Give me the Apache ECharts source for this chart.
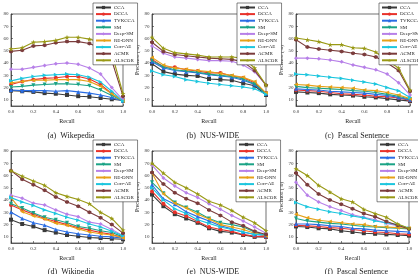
<!DOCTYPE html>
<html>
<head>
<meta charset="utf-8">
<script src="https://cdn.jsdelivr.net/npm/echarts@6/dist/echarts.min.js"></script>
<style>
  html, body { margin: 0; padding: 0; background: #fff; }
  #chart { width: 418px; height: 274px; }
</style>
</head>
<body>
<div id="chart"></div>
<script>
// x values (recall)
const recall = [0, 0.1, 0.2, 0.3, 0.4, 0.5, 0.6, 0.7, 0.8, 0.9, 1.0];
const methods = ['CCA', 'DCCA', 'TVKCCA', 'SM', 'Deep-SM', 'RE-DNN', 'Corr-AE', 'ACMR', 'ALSCOR'];
const yTicks = [10, 20, 30, 40, 50, 60, 70, 80];
const captions = ['(a)  Wikepedia', '(b)  NUS-WIDE', '(c)  Pascal Sentence',
                  '(d)  Wikipedia', '(e)  NUS-WIDE', '(f)  Pascal Sentence'];

// precision values, one row per method (same order as methods)
const wikiTop = [
  [17.5, 17, 16.5, 15.5, 15, 14, 13, 12.5, 11.5, 10.5, 9.5],
  [22.5, 25, 26.5, 27.5, 28, 29, 29, 27, 22.5, 15, 9],
  [18, 17.5, 17.5, 17.5, 17, 17.5, 16.5, 15.5, 14, 12, 9],
  [20.5, 21, 22, 22.5, 23, 23, 22.5, 21.5, 18, 13.5, 9],
  [35, 35, 36.5, 38, 39.5, 40, 39, 36, 31, 20, 10],
  [24, 25, 26, 26, 26.5, 26.5, 26.5, 25, 21, 15, 9],
  [25.5, 27.5, 29, 30, 30.5, 31, 30.5, 28.5, 24.5, 17, 9],
  [49.5, 50.5, 54, 54.5, 56.5, 57.5, 57.5, 56, 52, 42, 13],
  [51.5, 52.5, 57, 57.5, 58.5, 61, 61, 59.5, 57, 48, 15]
];
const nusTop = [
  [39.5, 33, 31, 30, 29.5, 27, 26.5, 26, 23.5, 21.5, 14],
  [43, 37, 36.5, 34.5, 33.5, 32, 32, 29.5, 28, 24, 15.5],
  [41, 36, 34, 33, 32, 30.5, 29.5, 28.5, 26, 22.5, 15],
  [42, 37, 34.5, 33.5, 32.5, 31, 30, 29, 27, 23, 15],
  [54, 48, 45, 44, 43, 42, 42, 41.5, 38.5, 33, 22],
  [44.5, 38.5, 36, 35, 34, 33, 31.5, 30, 28.5, 25, 15.5],
  [33.5, 30.5, 29, 26.5, 25, 23.5, 22.5, 21.5, 20.5, 19, 14.5],
  [57, 49.5, 47, 46, 45, 44, 43.5, 43, 41, 34, 22],
  [61, 52, 48.5, 47.5, 46.5, 45, 45, 45, 44, 36, 22]
];
const pascalTop = [
  [16.5, 16, 15.5, 14.5, 14, 13.5, 12.5, 12, 11, 10, 9],
  [18, 17.5, 17, 16, 15, 14.5, 14, 13, 12.5, 11.5, 9.5],
  [19, 18.5, 18, 17, 16.5, 16, 15.5, 14.5, 13.5, 12, 10],
  [21, 20, 19.5, 19, 18.5, 17.5, 17, 16, 14.5, 13, 10.5],
  [44, 44, 43.5, 42.5, 41, 38.5, 36.5, 34.5, 31, 24, 14],
  [22.5, 22, 21, 20.5, 20, 19.5, 18, 17.5, 16, 14, 11],
  [31, 30.5, 29.5, 28.5, 27.5, 26, 24.5, 23, 20, 17.5, 12],
  [59, 53, 51.5, 50.5, 49.5, 48, 47, 45, 40, 34, 17],
  [60.5, 59, 57.5, 55, 55, 52.5, 52, 49, 42, 36, 18]
];
const wikiBottom = [
  [24, 20.5, 18.5, 15.5, 13.5, 11.5, 10.5, 9.5, 9, 8.5, 8],
  [36, 32, 28.5, 25, 22.5, 20, 17.5, 15.5, 13.5, 12, 9.5],
  [30, 25, 21.5, 19.5, 16, 14, 12.5, 11.5, 10.5, 10, 9],
  [37, 33.5, 29.5, 26, 24, 21.5, 18.5, 17, 15, 13.5, 10],
  [44, 41.5, 37.5, 36, 32, 28.5, 26.5, 22, 20.5, 16, 11],
  [42, 30.5, 27, 24.5, 21, 19.5, 16.5, 14, 12.5, 11.5, 9],
  [42, 38.5, 35.5, 32, 29, 26, 23.5, 20.5, 18, 14.5, 11],
  [64, 57, 52.5, 48, 42.5, 38.5, 35, 30, 25.5, 20, 13],
  [64, 59.5, 55.5, 52, 46, 43, 40.5, 37, 30, 25, 15.5]
];
const nusBottom = [
  [44.5, 35, 28.5, 25, 21.5, 17, 14.5, 13.5, 11.5, 10, 10],
  [47, 37, 30, 27, 22.5, 18, 16, 14.5, 12, 10.5, 10],
  [52.5, 41, 36.5, 30.5, 26.5, 23, 19, 16.5, 14, 12, 11],
  [54.5, 45.5, 38, 34, 30, 25, 21.5, 20, 18, 14, 11],
  [68.5, 58, 51.5, 46, 42, 37, 32.5, 27.5, 23, 18, 13],
  [62, 45, 37.5, 33.5, 28.5, 24.5, 20, 18, 16, 13, 11],
  [50, 40, 33, 29, 24, 21, 18, 16, 14, 12, 12],
  [62.5, 53, 46, 41, 37.5, 32, 27.5, 22, 19, 14.5, 12],
  [70, 62, 54.5, 50, 45, 39, 36, 31.5, 26, 21.5, 15]
];
const pascalBottom = [
  [18.5, 18, 17, 16.5, 15, 14, 13, 12.5, 12, 11.5, 11],
  [19.5, 19, 18.5, 17.5, 17, 16, 15, 14, 13.5, 12.5, 12],
  [20.5, 20.5, 20, 19, 18.5, 17, 16.5, 15.5, 15, 14.5, 14],
  [25, 23, 22, 21, 20.5, 19.5, 18.5, 18, 17.5, 17, 16.5],
  [54.5, 44, 38.5, 34.5, 31.5, 28, 26, 24, 21, 19, 17],
  [28.5, 25.5, 23.5, 22.5, 21.5, 20.5, 20, 18.5, 18, 17.5, 17],
  [38, 34.5, 32.5, 30.5, 29, 27, 25.5, 23, 21.5, 20, 17],
  [62, 52.5, 45, 40, 36.5, 33, 29, 26.5, 22.5, 19.5, 16.5],
  [65.5, 60, 52, 46.5, 41, 38.5, 32.5, 29, 26, 20.5, 17]
];
const panels = [wikiTop, nusTop, pascalTop, wikiBottom, nusBottom, pascalBottom];

const colors = ['#3a3a3a', '#e8322b', '#2a6de4', '#1ba386', '#b780e8', '#e6a118', '#1cc6de', '#7b3c3c', '#999915'];
const star = 'path://M0,-10L2.35,-3.24L9.51,-3.09L3.8,1.24L5.88,8.09L0,4L-5.88,8.09L-3.8,1.24L-9.51,-3.09L-2.35,-3.24Z';
const hexagon = 'path://M0,-10L8.66,-5L8.66,5L0,10L-8.66,5L-8.66,-5Z';
const symbols = ['rect', 'circle', 'triangle', 'triangle', 'diamond', 'triangle', 'triangle', hexagon, star];
const rotates = [0, 0, 0, 180, 0, 90, -90, 0, 0];

const font = 'Liberation Serif';
const axisColor = '#333';

const boxes = [
  { left: 11, top: 14, width: 112 },
  { left: 152, top: 14, width: 114 },
  { left: 296, top: 14, width: 114 },
  { left: 11, top: 151, width: 112 },
  { left: 152, top: 151, width: 114 },
  { left: 296, top: 151, width: 113 }
];
const legendPos = [[93, 3], [237, 3], [379, 3], [93, 140], [236, 140], [377, 140]];

const chart = echarts.init(document.getElementById('chart'), null, { renderer: 'canvas' });

const grid = boxes.map(b => ({
  left: b.left, top: b.top, width: b.width, height: 92,
  show: true, borderColor: axisColor, borderWidth: 0.7, backgroundColor: 'transparent'
}));

const xAxis = boxes.map((b, i) => ({
  type: 'value', gridIndex: i, min: 0, max: 1, interval: 0.2,
  name: 'Recall', nameLocation: 'middle', nameGap: 12,
  nameTextStyle: { fontFamily: font, fontSize: 6, color: '#222' },
  axisLine: { lineStyle: { color: axisColor, width: 0.7 } },
  axisTick: { inside: true, length: 2, lineStyle: { color: axisColor, width: 0.6 } },
  minorTick: { show: true, splitNumber: 2, length: 1.2, lineStyle: { color: axisColor, width: 0.5 } },
  axisLabel: { fontFamily: font, fontSize: 5, color: '#333', margin: 3, formatter: v => v.toFixed(1) },
  splitLine: { show: false }
}));

const yAxis = boxes.map((b, i) => ({
  type: 'value', gridIndex: i, min: 5, max: 80,
  name: (i % 3 === 0) ? '' : 'Precision (%)', nameLocation: 'middle', nameGap: i % 3 === 2 ? 11 : 8.5,
  nameTextStyle: { fontFamily: font, fontSize: 5.5, color: '#222' },
  axisLine: { show: true, lineStyle: { color: axisColor, width: 0.7 } },
  axisTick: { inside: true, length: 2, customValues: yTicks, lineStyle: { color: axisColor, width: 0.6 } },
  axisLabel: { fontFamily: font, fontSize: 5, color: '#333', margin: 2.5, customValues: yTicks },
  splitLine: { show: false }
}));

const series = [];
panels.forEach((rows, p) => {
  rows.forEach((vals, m) => {
    series.push({
      name: methods[m], type: 'line', xAxisIndex: p, yAxisIndex: p,
      data: recall.map((r, k) => [r, vals[k]]),
      symbol: symbols[m], symbolRotate: rotates[m],
      symbolSize: m === 8 ? 5 : 4,
      color: colors[m],
      lineStyle: { width: 1.1, color: colors[m] },
      itemStyle: { color: colors[m] },
      z: 2 + m
    });
  });
});

const legend = legendPos.map(pos => ({
  data: methods, orient: 'vertical', left: pos[0], top: pos[1],
  itemWidth: 15, itemHeight: 4, itemGap: 1.6,
  padding: [2, 3, 2, 2], z: 20,
  backgroundColor: '#fff', borderColor: axisColor, borderWidth: 0.6,
  textStyle: { fontFamily: font, fontSize: 5, lineHeight: 5, color: '#222', padding: [0, 0, 0, -2] },
  selectedMode: false
}));

const title = captions.map((t, i) => ({
  text: t, left: boxes[i].left + boxes[i].width / 2 - 1, top: i < 3 ? 127 : 263,
  textAlign: 'center',
  textStyle: { fontFamily: font, fontSize: 8, fontWeight: 'normal', color: '#222' }
}));

chart.setOption({
  animation: false,
  title, legend, grid, xAxis, yAxis, series
});
</script>
</body>
</html>
